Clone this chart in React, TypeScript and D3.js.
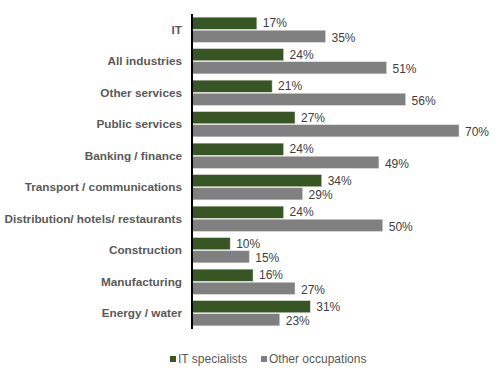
import React, { useRef, useEffect } from 'react';
import * as d3 from 'd3';

const categories = [
  'IT',
  'All industries',
  'Other services',
  'Public services',
  'Banking / finance',
  'Transport / communications',
  'Distribution/ hotels/ restaurants',
  'Construction',
  'Manufacturing',
  'Energy / water',
];
const itSpecialists = [17, 24, 21, 27, 24, 34, 24, 10, 16, 31];
const otherOccupations = [35, 51, 56, 70, 49, 29, 50, 15, 27, 23];
const seriesNames = ['IT specialists', 'Other occupations'];
const seriesColors = ['#375623', '#808080'];

const width = 499;
const height = 372;

const App: React.FC = () => {
  const svgRef = useRef<SVGSVGElement | null>(null);

  useEffect(() => {
    if (!svgRef.current) return;
    const svg = d3.select(svgRef.current);
    svg.selectAll('*').remove();

    const left = 192;
    const top = 14;
    const bottom = 329;

    const x = d3.scaleLinear().domain([0, 70]).range([left, 459]);
    const y = d3.scaleBand<string>()
      .domain(categories)
      .range([top, bottom])
      .paddingInner(0.2)
      .paddingOuter(0.1);
    const inner = d3.scaleBand<number>()
      .domain([0, 1])
      .range([0, y.bandwidth()])
      .paddingInner(0.08);

    const rows = categories.map((c, i) => ({ c, vals: [itSpecialists[i], otherOccupations[i]] }));

    const g = svg.append('g');
    rows.forEach(row => {
      row.vals.forEach((v, s) => {
        const by = (y(row.c) as number) + (inner(s) as number);
        g.append('rect')
          .attr('x', x(0))
          .attr('y', by)
          .attr('width', x(v) - x(0))
          .attr('height', inner.bandwidth())
          .attr('fill', seriesColors[s])
          .attr('stroke', '#d9d9d9')
          .attr('stroke-width', 0.5);
        g.append('text')
          .attr('x', x(v) + 6)
          .attr('y', by + inner.bandwidth() / 2 + (s === 0 ? 0 : 1))
          .attr('dy', '0.35em')
          .attr('font-family', 'Liberation Sans, Arial, sans-serif')
          .attr('font-size', 12)
          .attr('fill', '#404040')
          .text(`${v}%`);
      });
      g.append('text')
        .attr('x', 182)
        .attr('y', (y(row.c) as number) + y.bandwidth() / 2)
        .attr('dy', '0.35em')
        .attr('text-anchor', 'end')
        .attr('font-family', 'Liberation Sans, Arial, sans-serif')
        .attr('font-size', 11.75)
        .attr('font-weight', 'bold')
        .attr('fill', '#595959')
        .text(row.c);
    });

    // axis line
    svg.append('line')
      .attr('x1', left).attr('x2', left)
      .attr('y1', top).attr('y2', bottom)
      .attr('stroke', '#000')
      .attr('stroke-width', 2);

    // legend
    const legendX = [170, 261];
    seriesNames.forEach((name, i) => {
      const lg = svg.append('g').attr('transform', `translate(${legendX[i]},359)`);
      lg.append('rect')
        .attr('x', 0).attr('y', -3)
        .attr('width', 6).attr('height', 6)
        .attr('fill', seriesColors[i]);
      lg.append('text')
        .attr('x', 8)
        .attr('y', 0)
        .attr('dy', '0.35em')
        .attr('font-family', 'Liberation Sans, Arial, sans-serif')
        .attr('font-size', 12)
        .attr('fill', '#595959')
        .text(name);
    });
  }, []);

  return (
    <svg
      ref={svgRef}
      width={width}
      height={height}
      style={{ position: 'absolute', left: 0, top: 0, background: '#fff' }}
    />
  );
};

export default App;
